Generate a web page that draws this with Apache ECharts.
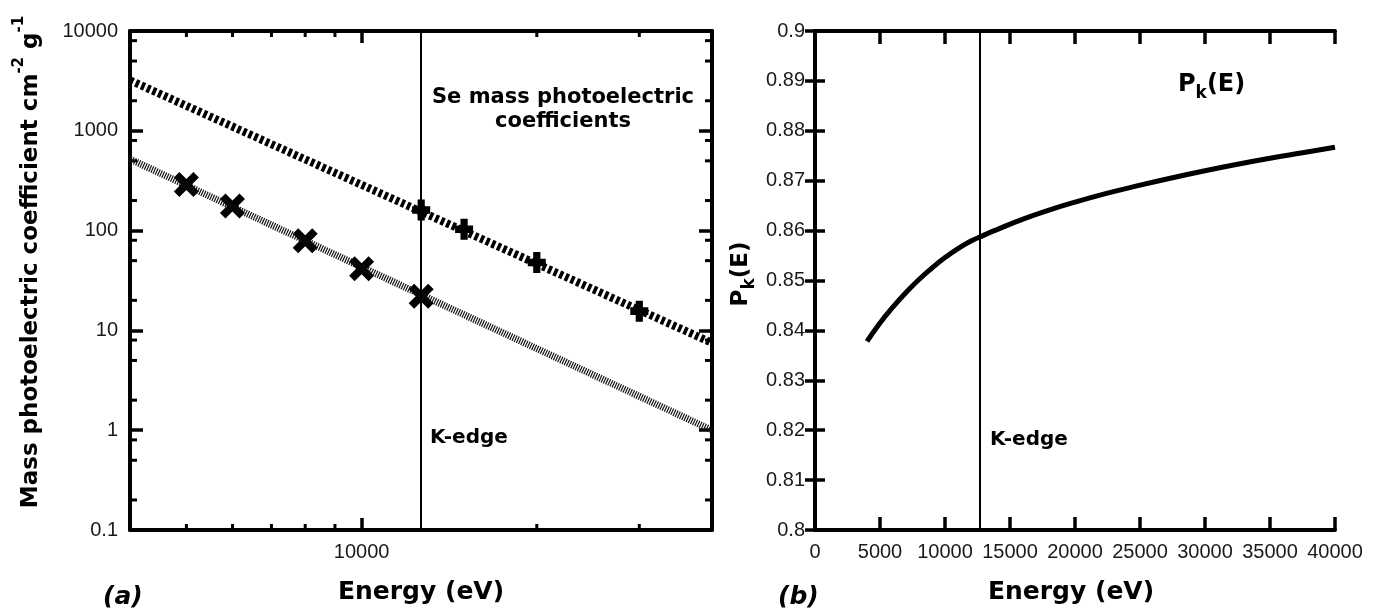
<!DOCTYPE html>
<html>
<head>
<meta charset="utf-8">
<script src="https://cdn.jsdelivr.net/npm/echarts@6/dist/echarts.min.js"></script>
<style>
  html, body { margin: 0; padding: 0; background: #fff; }
  #chart { width: 1376px; height: 610px; }
</style>
</head>
<body>
<div id="chart"></div>
<script>
// (a) Se mass photoelectric coefficients, log-log
const fitEnergy = [4000, 40000];
const fitAboveEdge = [3200, 7.5];
const fitBelowEdge = [520, 1.0];
const aboveEdgeEnergy = [12658, 15000, 20000, 30000];
const aboveEdgeMu = [161, 103, 48, 15.6];
const belowEdgeEnergy = [5000, 6000, 8000, 10000, 12658];
const belowEdgeMu = [290, 176, 79, 41.5, 22];
const kEdge = 12658;

// minor ticks of the log axes
const xMinorTicks = [5000, 6000, 7000, 8000, 9000, 20000, 30000];
const yMinorTicks = [0.2, 0.5, 0.8, 2, 5, 8, 20, 50, 80, 200, 500, 800, 2000, 5000, 8000];

// (b) P_k(E)
const pkEnergy = [4000, 5000, 6000, 7000, 8000, 9000, 10000, 11000, 12000, 13000, 14000,
  16000, 18000, 20000, 22500, 25000, 27500, 30000, 32500, 35000, 37500, 40000];
const pkValue = [0.8378, 0.8415, 0.8447, 0.8476, 0.8502, 0.8525, 0.8546, 0.8564, 0.8579, 0.8591, 0.8602,
  0.8623, 0.8641, 0.8657, 0.8675, 0.8691, 0.8706, 0.8720, 0.8733, 0.8745, 0.8756, 0.8767];

const zip = (xs, ys) => xs.map((x, i) => [x, ys[i]]);

const tickFont = { fontFamily: 'Liberation Sans', fontSize: 20, color: '#1a1a1a' };
const titleFont = 'DejaVu Sans';
const frameLine = { show: true, lineStyle: { color: '#000', width: 4 } };

const crossPath = 'path://M0,2.2L2.2,0L5,2.8L7.8,0L10,2.2L7.2,5L10,7.8L7.8,10L5,7.2L2.2,10L0,7.8L2.8,5Z';
const plusPath = 'path://M3,0H7V3.2H10V6.8H7V10H3V6.8H0V3.2H3Z';

const logLabel = v => String(+Number(v).toPrecision(6));

function xMinorRender(params, api) {
  const cs = params.coordSys;
  const x = api.coord([api.value(0), api.value(1)])[0];
  const b = cs.y + cs.height, t = cs.y, len = 6;
  const st = { stroke: '#000', lineWidth: 3 };
  return { type: 'group', children: [
    { type: 'line', shape: { x1: x, y1: b, x2: x, y2: b - len }, style: st },
    { type: 'line', shape: { x1: x, y1: t, x2: x, y2: t + len }, style: st }
  ] };
}

function yMinorRender(params, api) {
  const cs = params.coordSys;
  const y = api.coord([api.value(0), api.value(1)])[1];
  const l = cs.x, r = cs.x + cs.width, len = 7;
  const st = { stroke: '#000', lineWidth: 3 };
  return { type: 'group', children: [
    { type: 'line', shape: { x1: l, y1: y, x2: l + len, y2: y }, style: st },
    { type: 'line', shape: { x1: r, y1: y, x2: r - len, y2: y }, style: st }
  ] };
}

const chart = echarts.init(document.getElementById('chart'));

chart.setOption({
  animation: false,
  backgroundColor: '#fff',
  grid: [
    { left: 130, top: 31, width: 582, height: 499 },
    { left: 815, top: 31, width: 520, height: 499 }
  ],
  xAxis: [
    {
      type: 'log', gridIndex: 0, min: 4000, max: 40000, position: 'bottom',
      axisLine: frameLine,
      axisTick: { inside: true, length: 12, lineStyle: { color: '#000', width: 3.5 } },
      axisLabel: { ...tickFont, margin: 12, formatter: v => Math.abs(v - 10000) < 1 ? '10000' : '' },
      splitLine: { show: false }
    },
    {
      type: 'log', gridIndex: 0, min: 4000, max: 40000, position: 'top',
      axisLine: frameLine,
      axisTick: { inside: true, length: 12, lineStyle: { color: '#000', width: 3.5 } },
      axisLabel: { show: false }, splitLine: { show: false }
    },
    {
      type: 'value', gridIndex: 1, min: 0, max: 40000, interval: 5000, position: 'bottom',
      axisLine: frameLine,
      axisTick: { inside: true, length: 13, lineStyle: { color: '#000', width: 3.5 } },
      axisLabel: { ...tickFont, margin: 12, formatter: v => String(v) },
      splitLine: { show: false }
    },
    {
      type: 'value', gridIndex: 1, min: 0, max: 40000, interval: 5000, position: 'top',
      axisLine: frameLine,
      axisTick: { inside: true, length: 13, lineStyle: { color: '#000', width: 3.5 } },
      axisLabel: { show: false }, splitLine: { show: false }
    }
  ],
  yAxis: [
    {
      type: 'log', gridIndex: 0, min: 0.1, max: 10000, position: 'left',
      axisLine: frameLine,
      axisTick: { inside: true, length: 13, lineStyle: { color: '#000', width: 3.5 } },
      axisLabel: { ...tickFont, margin: 12, formatter: logLabel },
      splitLine: { show: false }
    },
    {
      type: 'log', gridIndex: 0, min: 0.1, max: 10000, position: 'right',
      axisLine: frameLine,
      axisTick: { inside: true, length: 13, lineStyle: { color: '#000', width: 3.5 } },
      axisLabel: { show: false }, splitLine: { show: false }
    },
    {
      type: 'value', gridIndex: 1, min: 0.8, max: 0.9, interval: 0.01, position: 'left',
      axisLine: frameLine,
      axisTick: { inside: true, length: 10, lineStyle: { color: '#000', width: 3.5 } },
      axisLabel: { ...tickFont, margin: 10 },
      splitLine: { show: false }
    },
    {
      type: 'value', gridIndex: 1, min: 0.8, max: 0.9, interval: 0.01, position: 'right',
      axisLine: frameLine,
      axisTick: { inside: true, length: 10, lineStyle: { color: '#000', width: 3.5 } },
      axisLabel: { show: false }, splitLine: { show: false }
    }
  ],
  series: [
    {
      type: 'custom', xAxisIndex: 0, yAxisIndex: 0, silent: true,
      renderItem: xMinorRender,
      data: xMinorTicks.map(v => [v, 1])
    },
    {
      type: 'custom', xAxisIndex: 0, yAxisIndex: 0, silent: true,
      renderItem: yMinorRender,
      data: yMinorTicks.map(v => [10000, v])
    },
    {
      name: 'fit below edge', type: 'line', xAxisIndex: 0, yAxisIndex: 0,
      data: zip(fitEnergy, fitBelowEdge), showSymbol: false,
      lineStyle: { color: '#111', width: 7, type: [1.2, 1.2] }
    },
    {
      name: 'fit above edge', type: 'line', xAxisIndex: 0, yAxisIndex: 0,
      data: zip(fitEnergy, fitAboveEdge), showSymbol: false,
      lineStyle: { color: '#000', width: 8, type: [3.6, 2.6] },
      markLine: {
        silent: true, symbol: ['none', 'none'], label: { show: false },
        lineStyle: { color: '#000', width: 2, type: 'solid' },
        data: [{ xAxis: kEdge }]
      }
    },
    {
      name: 'below edge', type: 'scatter', xAxisIndex: 0, yAxisIndex: 0,
      data: zip(belowEdgeEnergy, belowEdgeMu),
      symbol: crossPath, symbolSize: 25, itemStyle: { color: '#000', opacity: 1 }
    },
    {
      name: 'above edge', type: 'scatter', xAxisIndex: 0, yAxisIndex: 0,
      data: zip(aboveEdgeEnergy, aboveEdgeMu),
      symbol: plusPath, symbolSize: [18, 21], itemStyle: { color: '#000', opacity: 1 }
    },
    {
      name: 'Pk(E)', type: 'line', xAxisIndex: 2, yAxisIndex: 2,
      data: zip(pkEnergy, pkValue), smooth: true, showSymbol: false,
      lineStyle: { color: '#000', width: 5 },
      markLine: {
        silent: true, symbol: ['none', 'none'], label: { show: false },
        lineStyle: { color: '#000', width: 2, type: 'solid' },
        data: [{ xAxis: kEdge }]
      }
    }
  ],
  graphic: [
    {
      type: 'text', x: 31, y: 262, rotation: Math.PI / 2,
      style: {
        text: '{a|Mass photoelectric coefficient cm}{s|-2}{a| g}{s|-1}',
        align: 'center', verticalAlign: 'middle',
        rich: {
          a: { fontFamily: titleFont, fontWeight: 'bold', fontSize: 23, lineHeight: 38, fill: '#000' },
          s: { fontFamily: titleFont, fontWeight: 'bold', fontSize: 15, lineHeight: 15, verticalAlign: 'top', fill: '#000' }
        }
      }
    },
    {
      type: 'text', x: 741, y: 274, rotation: Math.PI / 2,
      style: {
        text: '{a|P}{s|k}{a|(E)}',
        align: 'center', verticalAlign: 'middle',
        rich: {
          a: { fontFamily: titleFont, fontWeight: 'bold', fontSize: 23, lineHeight: 34, fill: '#000' },
          s: { fontFamily: titleFont, fontWeight: 'bold', fontSize: 17, lineHeight: 17, verticalAlign: 'bottom', fill: '#000' }
        }
      }
    },
    {
      type: 'text', x: 1178, y: 85,
      style: {
        text: '{a|P}{s|k}{a|(E)}',
        align: 'left', verticalAlign: 'middle',
        rich: {
          a: { fontFamily: titleFont, fontWeight: 'bold', fontSize: 24, lineHeight: 34, fill: '#000' },
          s: { fontFamily: titleFont, fontWeight: 'bold', fontSize: 17, lineHeight: 17, verticalAlign: 'bottom', fill: '#000' }
        }
      }
    },
    {
      type: 'text', x: 563, y: 110,
      style: {
        text: 'Se mass photoelectric\ncoefficients', align: 'center', verticalAlign: 'middle',
        fontFamily: titleFont, fontWeight: 'bold', fontSize: 21, lineHeight: 24, fill: '#000'
      }
    },
    {
      type: 'text', x: 430, y: 438,
      style: { text: 'K-edge', align: 'left', verticalAlign: 'middle',
        fontFamily: titleFont, fontWeight: 'bold', fontSize: 20, fill: '#000' }
    },
    {
      type: 'text', x: 990, y: 440,
      style: { text: 'K-edge', align: 'left', verticalAlign: 'middle',
        fontFamily: titleFont, fontWeight: 'bold', fontSize: 20, fill: '#000' }
    },
    {
      type: 'text', x: 421, y: 592,
      style: { text: 'Energy (eV)', align: 'center', verticalAlign: 'middle',
        fontFamily: titleFont, fontWeight: 'bold', fontSize: 25, fill: '#000' }
    },
    {
      type: 'text', x: 1071, y: 592,
      style: { text: 'Energy (eV)', align: 'center', verticalAlign: 'middle',
        fontFamily: titleFont, fontWeight: 'bold', fontSize: 25, fill: '#000' }
    },
    {
      type: 'text', x: 103, y: 597,
      style: { text: '(a)', align: 'left', verticalAlign: 'middle',
        fontFamily: titleFont, fontWeight: 'bold', fontStyle: 'italic', fontSize: 25, fill: '#000' }
    },
    {
      type: 'text', x: 778, y: 597,
      style: { text: '(b)', align: 'left', verticalAlign: 'middle',
        fontFamily: titleFont, fontWeight: 'bold', fontStyle: 'italic', fontSize: 25, fill: '#000' }
    }
  ]
});
</script>
</body>
</html>
